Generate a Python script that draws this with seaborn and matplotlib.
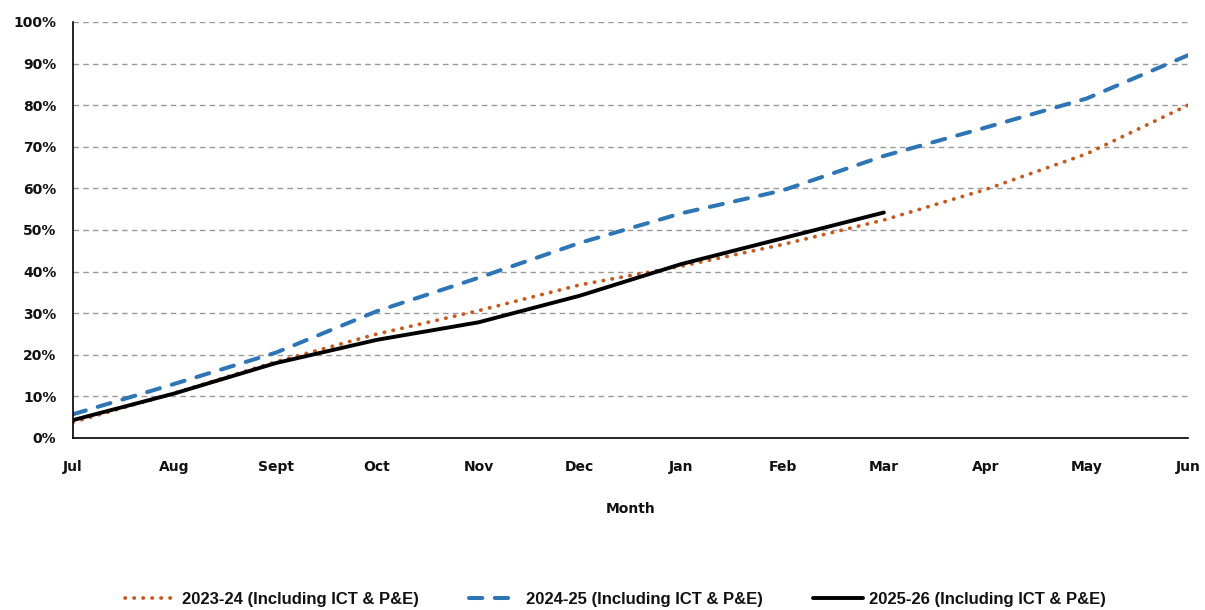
import numpy as np
import pandas as pd
import matplotlib
matplotlib.use("Agg")
import matplotlib.pyplot as plt
import seaborn as sns
from matplotlib.ticker import PercentFormatter, MultipleLocator

# month labels on the x axis
months = ["Jul", "Aug", "Sept", "Oct", "Nov", "Dec", "Jan", "Feb", "Mar", "Apr", "May", "Jun"]

# cumulative share (fraction of 1)
fy_2023_24 = [0.038, 0.108, 0.183, 0.250, 0.306, 0.368, 0.413, 0.465, 0.524, 0.597, 0.683, 0.800]
fy_2024_25 = [0.057, 0.130, 0.205, 0.305, 0.385, 0.469, 0.540, 0.595, 0.678, 0.746, 0.816, 0.920]
fy_2025_26 = [0.043, 0.107, 0.180, 0.236, 0.278, 0.342, 0.418, 0.480, 0.542]

labels = ["2023-24 (Including ICT & P&E)",
          "2024-25 (Including ICT & P&E)",
          "2025-26 (Including ICT & P&E)"]

df = pd.concat([
    pd.DataFrame({"month": months, "value": fy_2023_24, "series": labels[0]}),
    pd.DataFrame({"month": months, "value": fy_2024_25, "series": labels[1]}),
    pd.DataFrame({"month": months[:len(fy_2025_26)], "value": fy_2025_26, "series": labels[2]}),
], ignore_index=True)

sns.set_theme(style="white")
plt.rcParams["font.family"] = ["DejaVu Sans"]

fig = plt.figure(figsize=(12.05, 6.1), dpi=100)
ax = fig.add_axes([0.0606, 0.282, 0.9253, 0.682])

styles = {
    labels[0]: dict(color="#C65A1E", linestyle=(0, (0.1, 2.3)), linewidth=2.7, dash_capstyle="round"),
    labels[1]: dict(color="#2E75B6", linestyle=(0, (3.3, 3.1)), linewidth=2.9, dash_capstyle="round"),
    labels[2]: dict(color="#000000", linestyle="-", linewidth=2.8),
}

for lab in labels:
    sub = df[df["series"] == lab]
    sns.lineplot(data=sub, x="month", y="value", ax=ax, label=lab, sort=False, **styles[lab])

ax.set_xlim(0, len(months) - 1)
ax.set_ylim(0, 1)
ax.yaxis.set_major_locator(MultipleLocator(0.1))
ax.yaxis.set_major_formatter(PercentFormatter(1.0, decimals=0))

ax.grid(axis="y", color="#999999", linestyle=(0, (4, 3)), linewidth=1.0)
ax.grid(axis="x", visible=False)
ax.set_axisbelow(True)

for side in ["top", "right"]:
    ax.spines[side].set_visible(False)
for side in ["left", "bottom"]:
    ax.spines[side].set_color("black")
    ax.spines[side].set_linewidth(1.2)

ax.tick_params(axis="x", direction="in", length=5, width=1.0, color="black", pad=16)
ax.tick_params(axis="y", length=0, pad=12)
for t in ax.get_xticklabels() + ax.get_yticklabels():
    t.set_fontweight("bold")
    t.set_fontsize(10)
    t.set_color("#111111")

ax.set_xlabel("Month", fontsize=10, fontweight="bold", color="#111111", labelpad=20)
ax.set_ylabel("")

ax.get_legend().remove()
handles, hl = ax.get_legend_handles_labels()
leg = fig.legend(handles, hl, loc="lower center", ncol=3, frameon=False,
                 bbox_to_anchor=(0.511, -0.02), handlelength=3.0, handletextpad=0.4,
                 columnspacing=3.0,
                 prop={"family": "Liberation Sans", "weight": "bold", "size": 12})
for t in leg.get_texts():
    t.set_color("#111111")

fig.savefig("out.png", dpi=100)
